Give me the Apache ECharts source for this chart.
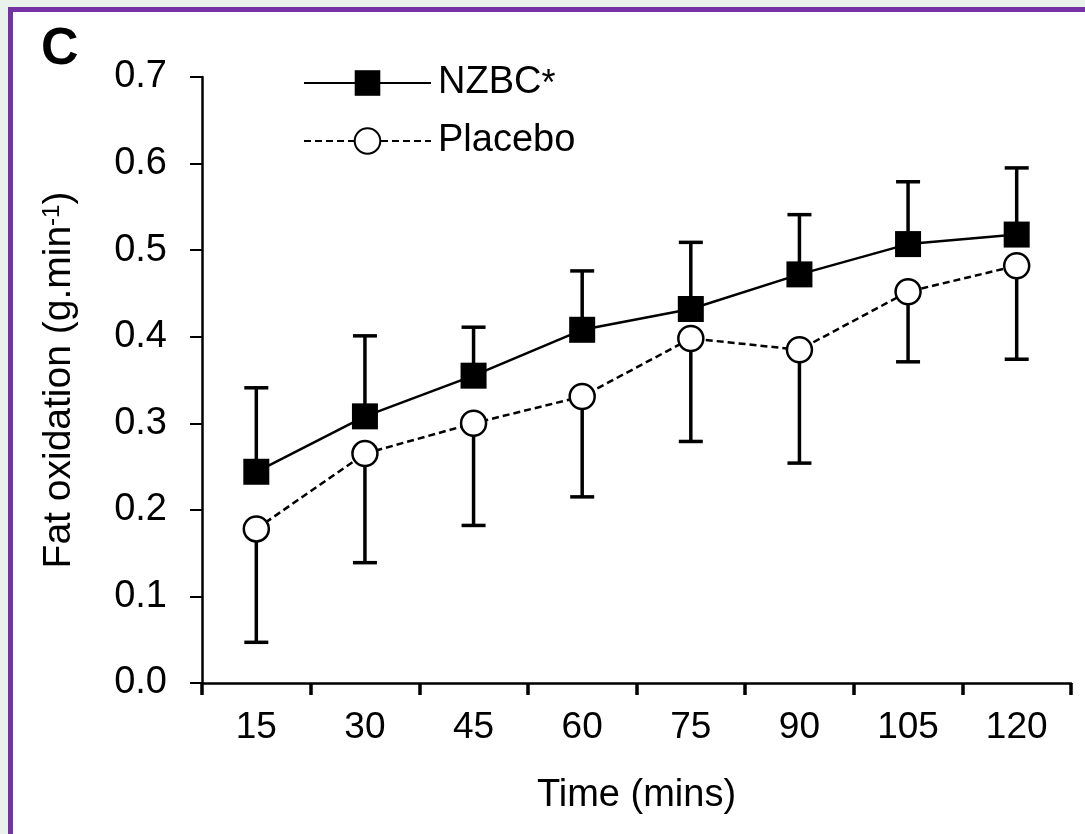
<!DOCTYPE html>
<html>
<head>
<meta charset="utf-8">
<script src="https://cdn.jsdelivr.net/npm/echarts@6/dist/echarts.min.js"></script>
<style>
  html, body { margin: 0; padding: 0; background: #e9f3ec; }
  #frame { position: absolute; left: 8px; top: 7px; right: 0; bottom: 0; background: #fff;
           border-left: 5px solid #7432a4; border-top: 5px solid #7432a4; }
  #chart { position: absolute; left: 0; top: 0; width: 1085px; height: 834px; }
</style>
</head>
<body>
<div id="frame"></div>
<div id="chart"></div>
<script>
// Fat oxidation over time, NZBC vs placebo (mean + one-sided SD bars)

const times = ['15', '30', '45', '60', '75', '90', '105', '120'];
const yTicks = [0, 0.1, 0.2, 0.3, 0.4, 0.5, 0.6, 0.7];

const nzbcMean  = [0.244, 0.308, 0.355, 0.408, 0.432, 0.472, 0.507, 0.518];
const nzbcUpper = [0.341, 0.401, 0.411, 0.476, 0.509, 0.541, 0.579, 0.595];

const placeboMean  = [0.178, 0.265, 0.300, 0.331, 0.398, 0.385, 0.452, 0.482];
const placeboLower = [0.047, 0.139, 0.182, 0.215, 0.279, 0.254, 0.371, 0.374];

let chartDom = document.getElementById('chart');
let chart = echarts.init(chartDom);

const font = '"Liberation Sans", Arial, sans-serif';

function errorBar(params, api) {
    let i = api.value(0);
    let p1 = api.coord([i, api.value(1)]);
    let p2 = api.coord([i, api.value(2)]);
    let half = 12;
    let st = { stroke: '#000', lineWidth: 3.5 };
    return {
        type: 'group',
        children: [
            { type: 'line', shape: { x1: p1[0], y1: p1[1], x2: p2[0], y2: p2[1] }, style: st },
            { type: 'line', shape: { x1: p2[0] - half, y1: p2[1], x2: p2[0] + half, y2: p2[1] }, style: st }
        ]
    };
}

let option = {
    backgroundColor: 'transparent',
    animation: false,
    textStyle: { fontFamily: font, color: '#000' },
    grid: { left: 202, right: 14, top: 77, bottom: 151 },
    graphic: [{
        type: 'text', left: 41, top: 24,
        style: { text: 'C', font: 'bold 52px ' + font, fill: '#000' }
    }],
    legend: {
        data: ['NZBC', 'Placebo'],
        orient: 'vertical',
        left: 298, top: 59,
        itemWidth: 127, itemHeight: 32, itemGap: 19,
        selectedMode: false,
        formatter: name => name === 'NZBC' ? 'NZBC{sup|*}' : name,
        textStyle: {
            fontFamily: font, fontSize: 38, color: '#000', lineHeight: 32,
            padding: [0, 0, 0, 2],
            rich: { sup: { fontSize: 36, verticalAlign: 'top', padding: [0, 0, 12, 0], color: '#000' } }
        }
    },
    xAxis: {
        type: 'category',
        data: times,
        boundaryGap: true,
        name: 'Time (mins)',
        nameLocation: 'middle',
        nameGap: 94,
        nameTextStyle: { fontFamily: font, fontSize: 38, color: '#000' },
        axisLine: { lineStyle: { color: '#000', width: 2.5 } },
        axisTick: { show: true, alignWithLabel: false, interval: 0, length: 12, lineStyle: { color: '#000', width: 3.5 } },
        axisLabel: { fontFamily: font, fontSize: 37, color: '#000', margin: 26, interval: 0 },
        splitLine: { show: false }
    },
    yAxis: {
        type: 'value',
        min: yTicks[0], max: yTicks[yTicks.length - 1], interval: 0.1,
        name: 'Fat oxidation (g.min{sup|-1})',
        nameLocation: 'middle',
        nameGap: 123,
        nameTextStyle: {
            fontFamily: font, fontSize: 39, color: '#000',
            rich: { sup: { fontSize: 24, verticalAlign: 'top', padding: [0, 0, 14, 0], color: '#000' } }
        },
        axisLine: { show: true, lineStyle: { color: '#000', width: 2.5 } },
        axisTick: { show: true, length: 12, lineStyle: { color: '#000', width: 2 } },
        axisLabel: { fontFamily: font, fontSize: 38, color: '#000', margin: 35, formatter: v => v.toFixed(1) },
        splitLine: { show: false }
    },
    series: [
        {
            name: 'NZBC err',
            type: 'custom',
            renderItem: errorBar,
            encode: { x: 0, y: [1, 2] },
            data: nzbcMean.map((m, i) => [i, m, nzbcUpper[i]]),
            z: 1
        },
        {
            name: 'Placebo err',
            type: 'custom',
            renderItem: errorBar,
            encode: { x: 0, y: [1, 2] },
            data: placeboMean.map((m, i) => [i, m, placeboLower[i]]),
            z: 1
        },
        {
            name: 'Placebo',
            type: 'line',
            data: placeboMean,
            symbol: 'circle',
            symbolSize: 25,
            itemStyle: { color: '#fff', borderColor: '#000', borderWidth: 2.5 },
            lineStyle: { color: '#000', width: 2.5, type: [7, 4] },
            z: 3
        },
        {
            name: 'NZBC',
            type: 'line',
            data: nzbcMean,
            symbol: 'rect',
            symbolSize: 26,
            itemStyle: { color: '#000' },
            lineStyle: { color: '#000', width: 2.5 },
            z: 4
        }
    ]
};

chart.setOption(option);
window.onresize = function() {
    chart.resize();
};
</script>
</body>
</html>
